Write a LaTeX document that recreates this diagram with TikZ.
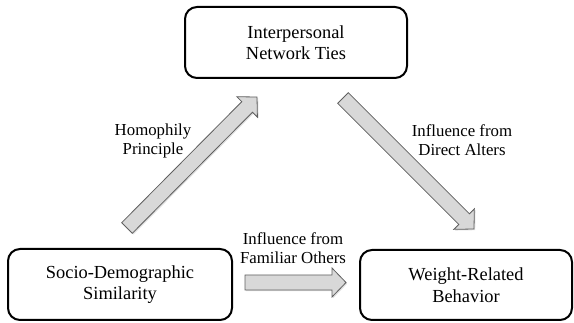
\documentclass[tikz,border=0pt]{standalone}
\usepackage{fontspec}
\setmainfont{Liberation Serif}
\usetikzlibrary{calc,shadows}

\definecolor{arrowfill}{RGB}{216,216,216}
\definecolor{arrowline}{RGB}{95,95,95}

\tikzset{
	factor/.style={draw, line width=2pt, rounded corners=12pt, align=center, inner sep=0pt,
		font=\fontsize{18.4}{21.5}\selectfont},
	pathlabel/.style={align=center, inner sep=0pt, font=\fontsize{16.8}{19}\selectfont},
	blockarrow/.style={draw=arrowline, fill=arrowfill, line width=0.8pt, line join=miter,
		drop shadow={shadow xshift=1.2pt, shadow yshift=-1.2pt, opacity=0.25},
		to path={let \p1=(\tikztostart), \p2=(\tikztotarget),
			\n1={atan2(\y2-\y1,\x2-\x1)}, \n2={veclen(\x2-\x1,\y2-\y1)-14pt} in
			($(\p1)+(\n1+90:7.5pt)$) -- ($(\p1)+(\n1:\n2)+(\n1+90:7.5pt)$)
			-- ($(\p1)+(\n1:\n2)+(\n1+90:14.5pt)$) -- (\p2)
			-- ($(\p1)+(\n1:\n2)+(\n1-90:14.5pt)$) -- ($(\p1)+(\n1:\n2)+(\n1-90:7.5pt)$)
			-- ($(\p1)+(\n1-90:7.5pt)$) -- cycle}}
}

\begin{document}
\begin{tikzpicture}[x=1pt, y=-1pt]
	\useasboundingbox (0,0) rectangle (574,323);
	% the three boxes
	\node[factor, minimum width=222pt, minimum height=71pt] (ties) at (296,42.5) {Interpersonal\\Network Ties};
	\node[factor, minimum width=224pt, minimum height=71pt] (simil) at (120,284.5) {Socio-Demographic\\Similarity};
	\node[factor, minimum width=212pt, minimum height=70pt] (behav) at (466,285) {Weight-Related\\Behavior};
	% arrow ends
	\coordinate (homstart) at (127,228);
	\coordinate (homend) at (257,97);
	\coordinate (dirstart) at (343,98);
	\coordinate (dirend) at (474,229);
	\coordinate (famstart) at (245,282.5);
	\coordinate (famend) at (346,282.5);
	\draw[blockarrow] (homstart) to (homend);
	\draw[blockarrow] (dirstart) to (dirend);
	\draw[blockarrow] (famstart) to (famend);
	% labels
	\node[pathlabel] (homlabel) at (153,141) {Homophily\\Principle};
	\node[pathlabel] (dirlabel) at (462,140) {Influence from\\Direct Alters};
	\node[pathlabel] (famlabel) at (293,248) {Influence from\\Familiar Others};
\end{tikzpicture}
\end{document}
